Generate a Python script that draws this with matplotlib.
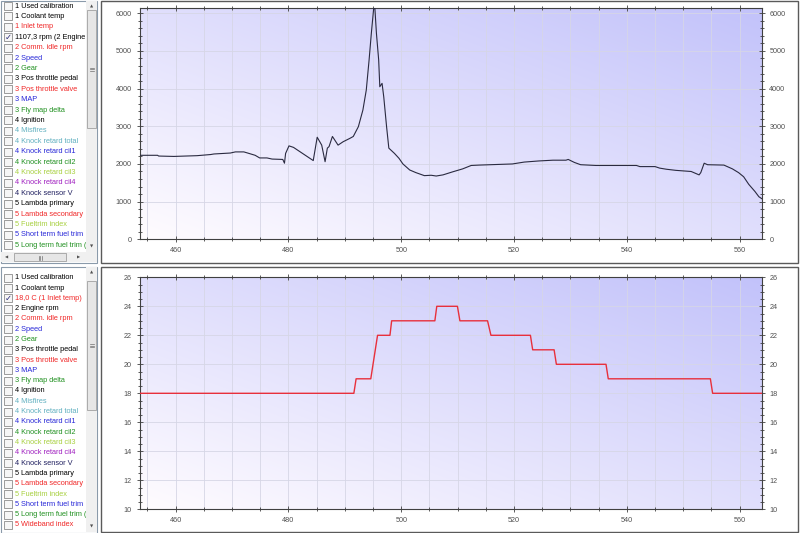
import numpy as np
import matplotlib
matplotlib.use('Agg')
import matplotlib.pyplot as plt
from matplotlib.patches import Rectangle
from matplotlib.ticker import MultipleLocator

# ---------------- data ----------------
time_rpm = [453.7, 456.8, 457.0, 459.7, 463.8, 466.2, 466.8, 469.7, 470.6, 472.1,
            473.0, 474.1, 474.9, 476.2, 477.1, 479.0, 479.3, 479.5, 480.1, 480.9,
            484.4, 485.1, 485.9, 486.5, 486.9, 487.2, 487.8, 488.8, 489.7, 490.9,
            491.5, 492.4, 493.2, 493.8, 494.3, 494.7, 495.1, 495.3, 495.6, 496.0,
            496.2, 496.6, 496.9, 497.4, 497.8, 498.8, 499.6, 500.3, 501.5, 502.6,
            504.1, 505.3, 506.2, 507.4, 509.1, 510.9, 512.4, 513.8, 519.7, 521.8,
            524.4, 526.9, 529.2, 529.6, 530.7, 531.8, 534.5, 541.7, 542.3, 545.0,
            545.8, 547.0, 548.7, 551.4, 552.8, 553.1, 553.7, 554.3, 557.2, 558.7,
            559.8, 560.7, 561.6, 562.7, 563.4, 563.9]
rpm = [2230, 2230, 2210, 2200, 2220, 2250, 2265, 2290, 2320, 2320,
       2280, 2230, 2160, 2160, 2130, 2120, 2020, 2280, 2480, 2440,
       2090, 2710, 2500, 2060, 2420, 2460, 2730, 2500, 2590, 2680,
       2730, 2990, 3430, 3960, 4760, 5470, 6110, 6200, 5470, 4760,
       4050, 4140, 3780, 2990, 2420, 2280, 2150, 2000, 1840, 1770,
       1690, 1700, 1680, 1710, 1790, 1870, 1960, 1970, 2000, 2050,
       2080, 2100, 2100, 2120, 2040, 1980, 1960, 1960, 1930, 1930,
       1890, 1860, 1830, 1800, 1710, 1770, 2020, 1980, 1970, 1870,
       1770, 1660, 1460, 1270, 1130, 1080]

time_temp = [453.7, 491.6, 492.0, 494.6, 495.8, 498.0, 498.3, 505.96, 506.3, 509.96,
             510.4, 515.3, 515.9, 522.9, 523.3, 527.1, 527.5, 536.3, 536.7, 554.8,
             555.2, 563.9]
temp = [18, 18, 19, 19, 22, 22, 23, 23, 24, 24,
        23, 23, 22, 22, 21, 21, 20, 20, 19, 19,
        18, 18]

x_ticks = [460, 480, 500, 520, 540, 560]
rpm_ticks = [0, 1000, 2000, 3000, 4000, 5000, 6000]
temp_ticks = [10, 12, 14, 16, 18, 20, 22, 24, 26]

channel_names = ["1 Used calibration", "1 Coolant temp", "1 Inlet temp", "2 Engine rpm",
                 "2 Comm. idle rpm", "2 Speed", "2 Gear", "3 Pos throttle pedal",
                 "3 Pos throttle valve", "3 MAP", "3 Fly map delta", "4 Ignition",
                 "4 Misfires", "4 Knock retard total", "4 Knock retard cil1",
                 "4 Knock retard cil2", "4 Knock retard cil3", "4 Knock retard cil4",
                 "4 Knock sensor V", "5 Lambda primary", "5 Lambda secondary",
                 "5 Fueltrim index", "5 Short term fuel trim", "5 Long term fuel trim (lf",
                 "5 Wideband index"]
channel_colors = ["#000000", "#000000", "#f02828", "#000000",
                  "#f02828", "#2828d8", "#209020", "#000000",
                  "#f02828", "#2828d8", "#209020", "#000000",
                  "#60b0c0", "#60b0c0", "#2828d8",
                  "#209020", "#a8d040", "#a020c0",
                  "#202060", "#000000", "#f02828",
                  "#a8d040", "#2828d8", "#209020",
                  "#f02828"]
top_selected = (3, "1107,3 rpm (2 Engine r")
bottom_selected = (2, "18,0 C (1 Inlet temp)")

# ---------------- figure ----------------
W, H = 800, 533
fig = plt.figure(figsize=(8, 5.33), dpi=100)
fig.patch.set_facecolor('white')
bg = fig.add_axes([0, 0, 1, 1])
bg.set_xlim(0, W)
bg.set_ylim(H, 0)
bg.axis('off')

FONT = 'Liberation Sans'

# chart panel borders
bg.add_patch(Rectangle((100.5, 0.5), 697.5, 262, facecolor='white', edgecolor='#5a5a5a', lw=1))
bg.add_patch(Rectangle((100.5, 266.5), 697.5, 265.5, facecolor='white', edgecolor='#5a5a5a', lw=1))


def draw_list(y_top, y_bot, first_y, step, selected, hscroll, thumb):
    bg.add_patch(Rectangle((0.5, y_top + 0.5), 96.5, y_bot - y_top - 1,
                           facecolor='white', edgecolor='#8a9aaa', lw=0.8, zorder=1))
    list_bottom = y_bot - 11 if hscroll else y_bot - 1
    for i, (name, col) in enumerate(zip(channel_names, channel_colors)):
        c = first_y + i * step
        if c - 5 > list_bottom:
            break
        label = selected[1] if i == selected[0] else name
        bg.add_patch(Rectangle((4, c - 4), 8, 8, facecolor='#f6f6f6', edgecolor='#8c8c8c',
                               lw=0.6, zorder=2))
        if i == selected[0]:
            bg.text(8, c, '✓', fontsize=6, color='#2a2a7a', ha='center', va='center',
                    family='DejaVu Sans', zorder=3)
        bg.text(15, c, label, fontsize=5.3, color=col, ha='left', va='center',
                family=FONT, zorder=3)
    # vertical scrollbar
    bg.add_patch(Rectangle((86, y_top + 1), 11, list_bottom - y_top - 1,
                           facecolor='#f0f0f0', edgecolor='none', zorder=4))
    bg.text(91.5, y_top + 6, '▲', fontsize=3, color='#505050', ha='center', va='center', zorder=5,
            family='DejaVu Sans')
    bg.text(91.5, list_bottom - 5, '▼', fontsize=3, color='#505050', ha='center', va='center',
            zorder=5, family='DejaVu Sans')
    bg.add_patch(Rectangle((87, thumb[0]), 9, thumb[1] - thumb[0],
                           facecolor='#e6e6e6', edgecolor='#a0a0a0', lw=0.6, zorder=5))
    gy = (thumb[0] + thumb[1]) / 2
    for dy in (-1.5, 0, 1.5):
        bg.plot([89.5, 93.5], [gy + dy, gy + dy], color='#707070', lw=0.5, zorder=6)
    if hscroll:
        bg.add_patch(Rectangle((1, list_bottom), 96, y_bot - list_bottom - 1, facecolor='#f0f0f0',
                               edgecolor='none', zorder=4))
        mid = (list_bottom + y_bot) / 2
        bg.text(7, mid, '◀', fontsize=3, color='#505050', ha='center', va='center',
                zorder=5, family='DejaVu Sans')
        bg.text(79, mid, '▶', fontsize=3, color='#505050', ha='center', va='center',
                zorder=5, family='DejaVu Sans')
        bg.add_patch(Rectangle((14, list_bottom + 1), 52, y_bot - list_bottom - 3,
                               facecolor='#e6e6e6', edgecolor='#a0a0a0', lw=0.6, zorder=5))
        for dx in (-1.5, 0, 1.5):
            bg.plot([40 + dx, 40 + dx], [mid - 2, mid + 2], color='#707070', lw=0.5, zorder=6)


draw_list(0, 263, 6.0, 10.4, top_selected, True, (10, 128))
draw_list(266, 533, 277.7, 10.3, bottom_selected, False, (281, 410))
bg.set_xlim(0, W)
bg.set_ylim(H, 0)

# ---------------- charts ----------------
x0, x1 = 453.6, 563.9
axL = 139.5 / W
axW = (761.7 - 139.5) / W
ax1 = fig.add_axes([axL, 1 - 239.3 / H, axW, (239.3 - 8) / H])
ax2 = fig.add_axes([axL, 1 - 509.3 / H, axW, (509.3 - 277.3) / H])


def style(ax, ylo, yhi, yticks, yminor):
    n = 200
    u = np.linspace(0, 1, n)[None, :]
    v = np.linspace(1, 0, n)[:, None]
    t = (u + v) / 2
    c0 = np.array([255, 252, 255]) / 255
    c1 = np.array([194, 194, 250]) / 255
    img = c0 + (c1 - c0) * t[..., None]
    ax.imshow(img, extent=[x0, x1, ylo, yhi], aspect='auto', origin='upper', zorder=0,
              interpolation='bilinear')
    ax.set_xlim(x0, x1)
    ax.set_ylim(ylo, yhi)
    ax.set_xticks(x_ticks)
    ax.xaxis.set_minor_locator(MultipleLocator(5))
    ax.set_yticks(yticks)
    ax.yaxis.set_minor_locator(MultipleLocator(yminor))
    ax.set_axisbelow(True)
    ax.grid(which='both', axis='x', color='#d6d6e6', lw=0.6)
    ax.grid(which='major', axis='y', color='#d6d6e6', lw=0.6)
    ax.tick_params(which='both', direction='inout', color='#404040', labelcolor='#505050',
                   labelsize=5.2, right=True, top=True, labelright=True, width=0.6, pad=3)
    ax.tick_params(which='major', length=5)
    ax.tick_params(which='minor', length=3)
    for tk in ax.xaxis.get_major_ticks() + ax.yaxis.get_major_ticks():
        tk.label1.set_family(FONT)
        tk.label2.set_family(FONT)
    for s in ax.spines.values():
        s.set_color('#404040')
        s.set_linewidth(0.8)


style(ax1, 0, 6140, rpm_ticks, 200)
style(ax2, 10, 26, temp_ticks, 0.5)
ax1.plot(time_rpm, rpm, color='#2a2a40', lw=0.8, zorder=3)
ax2.plot(time_temp, temp, color='#e8303c', lw=1.0, zorder=3)

fig.savefig('out.png', dpi=100)
